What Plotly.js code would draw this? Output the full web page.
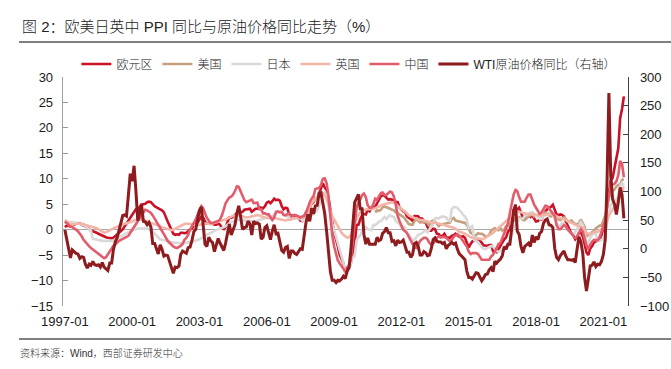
<!DOCTYPE html>
<html>
<head>
<meta charset="utf-8">
<script src="https://cdn.plot.ly/plotly-3.0.1.min.js"></script>
<style>html,body{margin:0;padding:0;background:#fff;}#chart{width:671px;height:369px;}</style>
</head>
<body>
<div id="chart"></div>
<script>
// monthly data, 1997-01 .. 2021-12
const startYear = 1997, nMonths = 300;
const seriesNames = ['欧元区', '美国', '日本', '英国', '中国', 'WTI原油价格同比（右轴）'];
const tickLabels = ['1997-01','2000-01','2003-01','2006-01','2009-01','2012-01','2015-01','2018-01','2021-01'];

const euroPPI = [
0.5,0.8,0.7,0.6,0.8,1.0,1.2,1.3,1.2,1.0,0.9,0.7,
0.4,0.1,-0.2,-0.3,-0.4,-0.6,-0.8,-1.0,-1.2,-1.4,-1.5,-1.6,
-1.7,-1.7,-1.6,-1.3,-1.0,-0.7,-0.3,0.1,0.7,1.3,1.9,2.4,
3.0,3.6,4.0,4.0,4.5,4.9,5.0,5.1,5.4,5.5,5.4,5.0,
4.6,4.4,4.2,4.1,3.8,3.4,2.4,1.6,0.8,-0.2,-0.8,-1.0,
-0.9,-1.0,-0.6,-0.6,-0.7,-0.6,-0.2,0.0,0.2,0.9,1.1,1.4,
2.0,2.6,2.4,1.6,1.2,1.3,1.3,1.2,1.0,1.0,1.2,1.0,
0.3,0.1,0.5,1.5,2.4,2.3,2.5,2.9,3.2,3.6,3.4,3.5,
3.9,4.0,4.1,4.1,3.5,3.8,4.1,4.1,4.4,4.3,4.2,4.6,
5.3,5.5,5.2,5.6,6.1,5.8,5.9,5.7,4.6,4.0,4.3,4.2,
3.0,2.8,2.8,2.5,2.4,2.3,1.8,1.7,2.7,3.3,4.1,4.3,
5.1,5.4,6.1,6.1,7.0,8.0,9.1,8.3,7.8,6.2,3.4,1.7,
-0.6,-1.8,-3.2,-4.9,-5.8,-6.6,-8.4,-7.5,-7.5,-6.6,-4.4,-2.9,
0.9,1.0,2.0,2.8,3.1,3.0,3.9,3.6,4.3,4.3,4.5,5.3,
5.8,6.6,6.7,6.7,6.3,5.9,6.0,5.9,5.8,5.5,5.4,4.4,
3.9,3.6,3.5,2.6,2.3,2.1,1.7,2.7,2.7,2.6,2.1,2.2,
1.7,1.3,0.6,-0.2,-0.2,0.2,0.1,-0.8,-0.9,-1.4,-1.2,-0.8,
-1.5,-1.6,-1.6,-1.2,-1.1,-0.8,-1.1,-1.4,-1.4,-1.3,-1.6,-2.7,
-3.5,-2.8,-2.3,-2.2,-2.1,-2.2,-2.1,-2.6,-3.1,-3.1,-3.2,-3.0,
-3.0,-4.2,-4.1,-4.4,-3.8,-3.0,-2.6,-1.9,-1.5,-0.4,0.1,1.6,
3.9,4.5,3.9,4.3,3.3,2.4,2.0,2.5,2.9,2.5,2.8,2.2,
1.6,1.7,2.1,2.0,3.0,3.6,4.0,4.2,4.5,4.9,4.0,3.0,
2.9,3.0,2.9,2.6,1.6,0.7,0.2,-0.8,-1.2,-1.9,-1.4,-0.6,
-0.6,-1.3,-2.8,-4.5,-5.0,-3.7,-3.2,-2.5,-2.3,-2.0,-1.9,-1.1,
0.4,1.6,4.4,7.6,9.6,10.2,12.1,13.4,16.0,21.9,23.7,26.2];

// US series starts 2010-11
const usStartIndex = 166;
const usPPI = [
3.4,3.8,
3.7,3.9,4.4,4.6,4.4,4.3,4.1,3.9,3.8,3.4,3.3,3.0,
2.8,2.5,2.1,1.5,1.1,1.0,1.0,1.7,2.0,1.8,1.4,1.5,
1.4,1.6,1.2,0.8,1.6,1.8,1.6,1.2,0.7,1.0,1.1,1.2,
1.2,1.4,1.4,2.1,2.3,1.8,1.7,1.7,1.6,1.4,1.3,1.0,
0.0,-0.6,-0.8,-1.3,-1.1,-0.7,-0.8,-0.8,-1.0,-1.4,-1.3,-1.0,
-0.2,0.0,0.3,0.0,-0.1,0.3,-0.2,0.0,0.7,0.8,1.3,1.6,
1.7,2.2,2.2,2.4,2.3,1.9,1.9,2.3,2.6,2.8,3.1,2.6,
2.7,2.8,3.0,2.6,3.1,3.4,3.3,2.8,2.6,2.9,2.5,2.6,
2.0,1.9,2.1,2.4,2.1,1.6,1.7,1.8,1.4,1.1,1.0,1.3,
2.0,1.2,0.6,-1.3,-1.1,-0.8,-0.5,-0.2,0.3,0.5,0.8,0.8,
1.7,2.8,4.2,6.4,6.9,7.6,7.9,8.5,8.8,8.9,9.8,9.9];

const japanPPI = [
1.2,1.3,1.4,1.5,1.5,1.4,1.3,1.2,1.1,1.0,0.9,0.6,
0.3,0.0,-0.2,-1.8,-1.9,-2.0,-2.0,-2.1,-2.2,-2.2,-2.2,-2.3,
-2.3,-2.3,-2.2,-1.9,-1.7,-1.5,-1.3,-1.0,-0.8,-0.6,-0.4,-0.3,
-0.2,0.0,0.1,0.2,0.2,0.3,0.3,0.3,0.2,0.1,-0.1,-0.4,
-0.8,-1.2,-1.6,-1.9,-2.0,-2.1,-2.2,-2.3,-2.4,-2.5,-2.5,-2.6,
-2.6,-2.7,-2.7,-2.7,-2.6,-2.6,-2.5,-2.5,-2.4,-2.3,-2.2,-2.1,
-1.9,-1.7,-1.4,-1.2,-1.0,-0.8,-0.6,-0.5,-0.3,-0.1,0.1,0.2,
0.3,0.5,0.7,1.0,1.3,1.5,1.6,1.7,1.8,2.0,2.0,1.9,
1.8,1.7,1.7,1.8,1.7,1.6,1.6,1.8,1.9,2.0,2.1,2.3,
2.4,2.5,2.5,2.6,3.0,3.3,3.4,3.5,3.3,2.9,2.8,2.7,
2.0,2.0,2.2,2.2,2.2,2.3,2.2,1.8,2.0,2.4,2.6,2.6,
2.8,3.1,3.4,3.8,4.7,5.7,7.1,7.3,6.8,4.7,3.1,1.2,
-0.1,-1.4,-2.7,-3.9,-5.5,-6.5,-8.5,-8.4,-7.8,-6.8,-5.4,-5.2,
-2.1,-1.4,-1.2,-0.2,0.2,0.5,0.1,0.0,-0.1,0.9,0.9,1.2,
1.6,1.7,2.0,2.5,2.1,2.5,2.9,2.6,2.5,1.7,1.5,1.2,
0.4,0.5,0.4,-0.6,-0.9,-1.4,-2.1,-2.0,-1.5,-1.0,-0.9,-0.6,
-0.3,-0.1,-0.5,0.1,0.6,1.2,2.2,2.3,2.2,2.5,2.6,2.5,
2.4,1.8,1.7,4.1,4.4,4.4,4.3,3.8,3.5,2.9,2.6,1.9,
0.3,0.5,0.7,-2.1,-2.2,-2.4,-3.0,-3.5,-3.8,-3.8,-3.6,-3.5,
-3.2,-3.4,-3.8,-4.2,-4.4,-4.2,-3.9,-3.6,-3.2,-2.6,-2.2,-1.2,
0.5,1.0,1.4,2.1,2.1,2.2,2.6,2.9,3.0,3.4,3.5,3.1,
2.7,2.5,2.1,2.1,2.7,2.8,3.1,3.1,3.0,3.0,2.3,1.5,
0.6,0.8,1.3,1.2,0.6,-0.1,-0.6,-0.9,-1.1,-0.4,0.1,0.9,
1.5,0.9,-0.5,-2.5,-2.8,-1.6,-1.0,-0.6,-0.8,-2.2,-2.2,-2.0,
-1.6,-0.7,1.0,3.8,4.9,5.2,5.8,6.0,6.4,8.5,9.2,8.7];

const ukPPI = [
1.9,1.6,1.3,1.1,1.0,1.0,1.1,1.2,1.2,1.2,1.1,0.9,
0.8,0.7,0.6,0.6,0.5,0.3,0.1,-0.1,-0.3,-0.6,-0.5,-0.3,
-0.2,0.0,0.2,0.4,0.6,0.8,0.9,1.0,1.2,1.3,1.4,1.5,
1.6,1.8,1.9,2.0,2.1,2.0,2.0,1.8,1.6,1.5,1.3,1.2,
1.1,1.0,0.8,0.7,0.5,0.4,0.3,0.1,0.0,-0.1,0.0,0.2,
0.3,0.5,0.7,0.9,1.1,1.2,1.2,1.1,1.0,0.9,0.9,0.9,
1.0,1.1,1.2,1.2,1.2,1.1,1.1,1.2,1.3,1.4,1.5,1.6,
1.7,1.9,2.0,2.2,2.4,2.6,2.7,2.8,2.9,2.9,2.8,2.6,
2.5,2.4,2.4,2.5,2.6,2.7,2.8,2.9,2.8,2.6,2.5,2.4,
2.4,2.3,2.2,2.3,2.3,2.2,2.1,2.0,1.9,1.8,1.8,1.9,
1.9,2.0,2.2,2.3,2.4,2.4,2.3,2.3,2.5,2.8,3.5,4.3,
5.2,5.6,6.0,6.4,7.0,7.3,7.2,6.8,6.0,5.0,3.8,2.6,
2.0,1.3,0.5,-0.1,-0.6,-1.0,-1.4,-1.6,-1.5,-1.0,0.2,1.0,
2.2,2.9,3.4,3.8,3.9,3.9,4.0,4.0,4.0,4.1,4.2,4.4,
4.6,4.8,4.9,5.0,5.1,5.2,5.3,5.4,5.3,5.0,4.6,4.3,
4.0,3.8,3.6,3.1,2.8,2.6,2.4,2.3,2.2,2.0,1.9,1.9,
1.8,1.7,1.6,1.5,1.4,1.3,1.4,1.3,1.2,1.1,1.0,1.0,
0.9,0.8,0.6,0.5,0.4,0.2,-0.1,-0.4,-0.5,-0.6,-0.8,-1.0,
-1.3,-1.5,-1.6,-1.7,-1.8,-1.7,-1.8,-1.9,-1.8,-1.6,-1.4,-1.2,
-0.9,-0.6,-0.3,0.0,0.3,0.6,0.9,1.2,1.5,2.0,2.4,2.8,
3.2,3.4,3.6,3.5,3.4,3.2,3.1,3.1,3.1,3.0,3.0,3.0,
2.9,2.9,2.8,2.8,2.9,3.0,3.1,3.1,3.1,3.0,2.9,2.6,
2.4,2.3,2.2,2.1,1.9,1.7,1.5,1.3,1.2,1.0,0.8,0.7,
0.6,0.4,0.0,-0.6,-0.8,-0.9,-0.7,-0.5,-0.4,-0.4,-0.2,0.1,
0.5,1.0,1.7,2.8,3.4,4.0,4.5,5.0,5.8,6.7,7.6,8.5];

const chinaPPI = [
1.6,1.2,0.9,0.6,0.5,0.3,0.0,-0.3,-0.7,-1.3,-2.0,-2.5,
-2.8,-3.3,-3.6,-3.9,-4.2,-4.5,-4.8,-5.0,-5.3,-5.6,-5.4,-4.8,
-4.2,-3.6,-3.2,-2.9,-2.5,-2.2,-2.0,-1.8,-1.6,-1.4,-1.2,-0.6,
0.0,0.6,1.2,1.8,2.3,2.9,3.5,3.9,3.8,3.6,3.3,2.8,
2.2,1.5,0.8,0.2,-0.3,-0.7,-1.5,-2.2,-2.6,-3.0,-3.3,-3.5,
-3.6,-3.4,-3.2,-2.8,-2.0,-1.6,-1.0,0.0,0.6,1.3,2.0,3.0,
3.8,4.6,4.2,3.0,2.3,1.8,1.3,1.3,1.4,1.5,1.7,2.0,
2.8,4.0,5.2,5.8,6.3,6.5,6.9,7.6,8.5,8.4,7.5,6.8,
5.8,5.4,5.6,5.8,5.9,5.2,5.2,5.3,4.0,4.0,3.2,3.2,
3.0,3.0,2.5,1.9,2.4,3.5,3.6,3.4,3.5,2.9,2.8,3.1,
3.3,2.6,2.7,2.9,2.8,2.5,2.4,2.6,2.7,3.2,4.6,5.4,
6.1,6.6,8.0,8.1,8.2,8.8,10.0,10.1,9.1,6.6,2.0,-1.1,
-3.3,-4.5,-6.0,-6.6,-7.2,-7.8,-8.2,-7.9,-7.0,-5.8,-2.1,1.7,
4.3,5.4,5.9,6.8,7.1,6.4,4.8,4.3,4.3,5.0,6.1,5.9,
6.6,7.2,7.3,6.8,6.8,7.1,7.5,7.3,6.5,5.0,2.7,1.7,
0.7,0.0,-0.3,-0.7,-1.4,-2.1,-2.9,-3.5,-3.6,-2.8,-2.2,-1.9,
-1.6,-1.6,-1.9,-2.6,-2.9,-2.7,-2.3,-1.6,-1.3,-1.5,-1.4,-1.4,
-1.6,-2.0,-2.3,-2.0,-1.4,-1.1,-0.9,-1.2,-1.8,-2.2,-2.7,-3.3,
-4.3,-4.8,-4.6,-4.6,-4.6,-4.8,-5.4,-5.9,-5.9,-5.9,-5.9,-5.9,
-5.3,-4.9,-4.3,-3.4,-2.8,-2.6,-1.7,-0.8,0.1,1.2,3.3,5.5,
6.9,7.8,7.6,6.4,5.5,5.5,5.5,6.3,6.9,6.9,5.8,4.9,
4.3,3.7,3.1,3.4,4.1,4.7,4.6,4.1,3.6,3.3,2.7,0.9,
0.1,0.1,0.4,0.9,0.6,0.0,-0.3,-0.8,-1.2,-1.6,-1.4,-0.5,
0.1,-0.4,-1.5,-3.1,-3.7,-3.0,-2.4,-2.0,-2.1,-2.1,-1.5,-0.4,
0.3,1.7,4.4,6.8,9.0,8.8,9.0,9.5,10.7,13.5,12.9,10.3];

const wtiYoY = [
33,16,-1,-16,-2,-6,-8,-9,-17,-14,-15,-27,
-34,-27,-29,-22,-28,-29,-28,-32,-24,-32,-36,-38,
-25,-25,-2,12,19,31,42,58,59,57,94,131,
118,145,103,49,62,78,48,47,42,46,38,9,
9,1,-9,7,-1,-13,-11,-12,-24,-33,-43,-32,
-33,-30,-10,-4,-6,-8,2,3,15,30,34,52,
67,73,37,8,4,20,14,11,-5,5,18,10,
4,-3,10,30,43,24,32,42,62,75,56,34,
37,38,48,44,24,48,44,45,43,17,20,37,
40,28,16,31,42,26,27,12,-3,-6,2,4,
-17,-4,-4,-8,-10,-5,0,-1,25,46,60,48,
71,61,75,76,97,98,80,61,30,-11,-40,-55,
-55,-59,-55,-56,-53,-48,-52,-39,-33,-1,36,81,
88,95,70,70,25,8,19,8,8,8,8,20,
14,16,27,30,37,28,28,13,14,5,15,11,
12,15,3,-6,-6,-15,-10,9,11,4,-11,-11,
-5,-7,-12,-11,0,16,19,13,12,12,9,11,
0,6,8,11,8,10,-1,-9,-12,-16,-19,-39,
-50,-50,-53,-47,-42,-43,-51,-56,-51,-45,-44,-37,
-33,-40,-22,-25,-21,-18,-12,4,-1,8,8,40,
66,77,31,25,4,-7,4,7,10,4,24,11,
21,16,27,30,44,50,52,42,41,37,1,-15,
-19,-12,-7,-4,-13,-19,-19,-20,-19,-24,0,21,
12,-8,-50,-74,-53,-30,-29,-23,-31,-27,-28,-22,
-10,17,114,272,128,86,78,60,81,107,94,53];

const dates = [];
for (let i = 0; i < nMonths; i++) {
  const y = startYear + Math.floor(i / 12), m = (i % 12) + 1;
  dates.push(y + '-' + String(m).padStart(2, '0') + '-01');
}
const tickVals = tickLabels.map(s => s + '-01');

const latin = 'Liberation Sans, Arial, Noto Sans CJK SC, sans-serif';
const cjk = 'Liberation Sans, Noto Sans CJK SC, sans-serif';
const colors = ['#CC1025', '#C4A07E', '#D9D9D9', '#F2B5A8', '#E25C6B', '#8E1B1E'];

function tr(name, x, y, color, axis, w) {
  return {type: 'scatter', mode: 'lines', name: name, x: x, y: y, yaxis: axis,
    line: {color: color, width: w}, hoverinfo: 'skip'};
}
const traces = [
  tr(seriesNames[0], dates, euroPPI, colors[0], 'y', 2.6),
  tr(seriesNames[1], dates.slice(usStartIndex), usPPI, colors[1], 'y', 2.6),
  tr(seriesNames[2], dates, japanPPI, colors[2], 'y', 2.6),
  tr(seriesNames[3], dates, ukPPI, colors[3], 'y', 2.6),
  tr(seriesNames[4], dates, chinaPPI, colors[4], 'y', 2.6),
  tr(seriesNames[5], dates, wtiYoY, colors[5], 'y2', 3)
];

const PL = 63, PR = 628, PT = 77, PB = 306, W = 671, H = 369;
const px = v => (v - PL) / (PR - PL);
const py = v => (PB - v) / (PB - PT);

const layout = {
  width: W, height: H,
  margin: {l: PL, r: W - PR, t: PT, b: H - PB, pad: 0},
  paper_bgcolor: '#fff', plot_bgcolor: '#fff',
  showlegend: true,
  title: {text: '图 2：欧美日英中 PPI 同比与原油价格同比走势（%）', xref: 'container', yref: 'container',
    x: 22 / W, xanchor: 'left', y: 1 - 27 / H, yanchor: 'middle',
    font: {family: cjk, size: 15, color: '#222', weight: 300}},
  legend: {orientation: 'h', x: 0.506, xanchor: 'center', y: py(64), yanchor: 'middle',
    font: {family: cjk, size: 12, color: '#222', weight: 300}, bgcolor: 'rgba(0,0,0,0)', traceorder: 'normal'},
  xaxis: {type: 'date', range: ['1996-12-01', '2022-02-06'], tickvals: tickVals, ticktext: tickLabels,
    ticks: '', showline: false, showgrid: false, zeroline: false, ticklabelstandoff: 6,
    tickfont: {family: latin, size: 13, color: '#1a1a1a'}},
  yaxis: {range: [-15, 30], tickvals: [-15,-10,-5,0,5,10,15,20,25,30], ticks: 'inside', ticklen: 5,
    tickcolor: '#999', showline: true, linecolor: '#A0A0A0', linewidth: 1.3, showgrid: false,
    zeroline: true, zerolinecolor: '#A8A8A8', zerolinewidth: 1.5, ticklabelstandoff: 6,
    tickfont: {family: latin, size: 13, color: '#1a1a1a'}},
  yaxis2: {range: [-100, 300], tickvals: [-100,-50,0,50,100,150,200,250,300], overlaying: 'y', side: 'right',
    ticks: 'inside', ticklen: 5, tickcolor: '#404040', showline: true, linecolor: '#404040', linewidth: 1.3,
    showgrid: false, zeroline: false, ticklabelstandoff: 8,
    tickfont: {family: latin, size: 13, color: '#1a1a1a'}},
  shapes: [
    {type: 'line', xref: 'paper', yref: 'paper', x0: px(19), x1: px(671), y0: py(42), y1: py(42),
     line: {color: '#808080', width: 2}},
    {type: 'line', xref: 'paper', yref: 'paper', x0: px(19), x1: px(671), y0: py(339), y1: py(339),
     line: {color: '#808080', width: 2}}
  ],
  annotations: [
    {text: '资料来源：Wind，西部证券研发中心', xref: 'paper', yref: 'paper', x: px(18), y: py(353),
     xanchor: 'left', yanchor: 'middle', showarrow: false,
     font: {family: cjk, size: 10, color: '#333', weight: 300}}
  ]
};

Plotly.newPlot('chart', traces, layout, {displayModeBar: false, staticPlot: true});
</script>
</body>
</html>
